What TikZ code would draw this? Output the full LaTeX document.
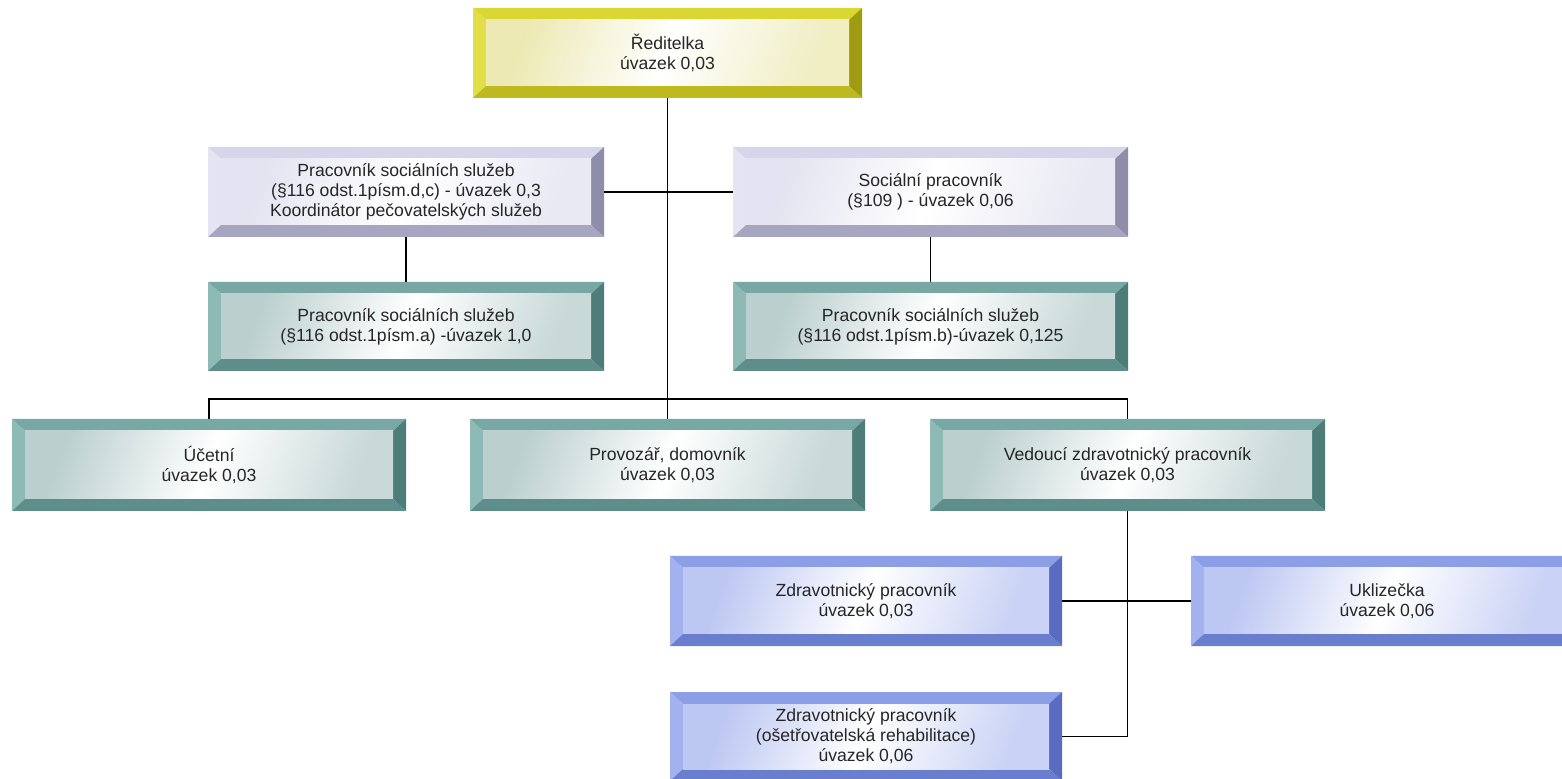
\documentclass[tikz,border=0pt]{standalone}
\usepackage{fontspec}
\setmainfont{Liberation Sans}
\usetikzlibrary{calc}

% bevel palettes: top, left, right, bottom, face tint
\definecolor{yTop}{HTML}{DAD632}\definecolor{yLeft}{HTML}{E2DE48}
\definecolor{yRight}{HTML}{A09C12}\definecolor{yBot}{HTML}{BDB91E}
\definecolor{yFace}{HTML}{E6E29A}
\definecolor{lTop}{HTML}{D6D6EA}\definecolor{lLeft}{HTML}{E4E4F2}
\definecolor{lRight}{HTML}{8E8EAA}\definecolor{lBot}{HTML}{A6A6C0}
\definecolor{lFace}{HTML}{DADAEC}
\definecolor{tTop}{HTML}{78A8A4}\definecolor{tLeft}{HTML}{8EBAB6}
\definecolor{tRight}{HTML}{4E7C78}\definecolor{tBot}{HTML}{5E8E8A}
\definecolor{tFace}{HTML}{A4C0BE}
\definecolor{bTop}{HTML}{8C9EE6}\definecolor{bLeft}{HTML}{A2B2EE}
\definecolor{bRight}{HTML}{5A6CC2}\definecolor{bBot}{HTML}{6A7ECE}
\definecolor{bFace}{HTML}{A6B4EE}

\newcommand\bevelart[5]{%
  \path (path picture bounding box.north west) coordinate (bNW)
        (path picture bounding box.north east) coordinate (bNE)
        (path picture bounding box.south west) coordinate (bSW)
        (path picture bounding box.south east) coordinate (bSE);
  \fill[#1] (bNW) -- (bNE) -- ([shift={(-6.5pt,-6pt)}]bNE) -- ([shift={(6.5pt,-6pt)}]bNW) -- cycle;
  \fill[#2] (bNW) -- ([shift={(6.5pt,-6pt)}]bNW) -- ([shift={(6.5pt,6pt)}]bSW) -- (bSW) -- cycle;
  \fill[#3] (bNE) -- (bSE) -- ([shift={(-6.5pt,6pt)}]bSE) -- ([shift={(-6.5pt,-6pt)}]bNE) -- cycle;
  \fill[#4] (bSW) -- ([shift={(6.5pt,6pt)}]bSW) -- ([shift={(-6.5pt,6pt)}]bSE) -- (bSE) -- cycle;
  \shade[left color=#5!75!white, right color=#5!60!white, middle color=white, shading angle=70]
    ([shift={(6.5pt,-6pt)}]bNW) rectangle ([shift={(-6.5pt,6pt)}]bSE);
}

\tikzset{
  bx/.style={rectangle, inner sep=0pt, align=center,
    font=\fontsize{8.8}{10}\selectfont, text=black!85},
  yel/.style={bx, path picture={\bevelart{yTop}{yLeft}{yRight}{yBot}{yFace}}},
  lav/.style={bx, path picture={\bevelart{lTop}{lLeft}{lRight}{lBot}{lFace}}},
  teal/.style={bx, path picture={\bevelart{tTop}{tLeft}{tRight}{tBot}{tFace}}},
  blu/.style={bx, path picture={\bevelart{bTop}{bLeft}{bRight}{bBot}{bFace}}},
  link/.style={draw=black, line width=0.7pt},
}

\begin{document}
\begin{tikzpicture}[x=0.5pt, y=-0.5pt]
\useasboundingbox (0,0) rectangle (1562,779);
\clip (0,0) rectangle (1562,779);

% director
\node[yel, minimum width=194.5pt, minimum height=45pt] (dir) at (667.5,53)
  {Ředitelka\\úvazek 0,03};

% second level
\node[lav, minimum width=198pt, minimum height=45pt] (pssdc) at (406,192)
  {Pracovník sociálních služeb\\(§116 odst.1písm.d,c) - úvazek 0,3\\Koordinátor pečovatelských služeb};
\node[lav, minimum width=197.5pt, minimum height=45pt] (socp) at (930.5,192)
  {Sociální pracovník\\(§109 ) - úvazek 0,06};

\node[teal, minimum width=198pt, minimum height=44.5pt] (pssa) at (406,326.5)
  {Pracovník sociálních služeb\\(§116 odst.1písm.a) -úvazek 1,0};
\node[teal, minimum width=197.5pt, minimum height=44.5pt] (pssb) at (930.5,326.5)
  {Pracovník sociálních služeb\\(§116 odst.1písm.b)-úvazek 0,125};

% third level
\node[teal, minimum width=197pt, minimum height=46pt] (ucet) at (209,465)
  {Účetní\\úvazek 0,03};
\node[teal, minimum width=197.5pt, minimum height=46pt] (prov) at (667.5,465)
  {Provozář, domovník\\úvazek 0,03};
\node[teal, minimum width=197.5pt, minimum height=46pt] (vedz) at (1127.5,465)
  {Vedoucí zdravotnický pracovník\\úvazek 0,03};

% health staff
\node[blu, minimum width=196pt, minimum height=45pt] (zdr) at (866,601)
  {Zdravotnický pracovník\\úvazek 0,03};
\node[blu, minimum width=196pt, minimum height=45pt] (ukl) at (1387,601)
  {Uklizečka\\úvazek 0,06};
\node[blu, minimum width=196pt, minimum height=44.5pt] (zdrr) at (866,736.5)
  {Zdravotnický pracovník\\(ošetřovatelská rehabilitace)\\úvazek 0,06};

% connectors
\coordinate (bus) at (667.5,399);
\draw[link] (dir.south) -- (prov.north);
\draw[link] (pssdc.east) -- (socp.west);
\draw[link] (pssdc.south) -- (pssa.north);
\draw[link] (socp.south) -- (pssb.north);
\draw[link] (ucet.north) -- (ucet.north |- bus) -- (vedz.north |- bus) -- (vedz.north);
\draw[link] (vedz.south) -- (vedz.south |- zdrr.east) -- (zdrr.east);
\draw[link] (zdr.east) -- (ukl.west);
\end{tikzpicture}
\end{document}
